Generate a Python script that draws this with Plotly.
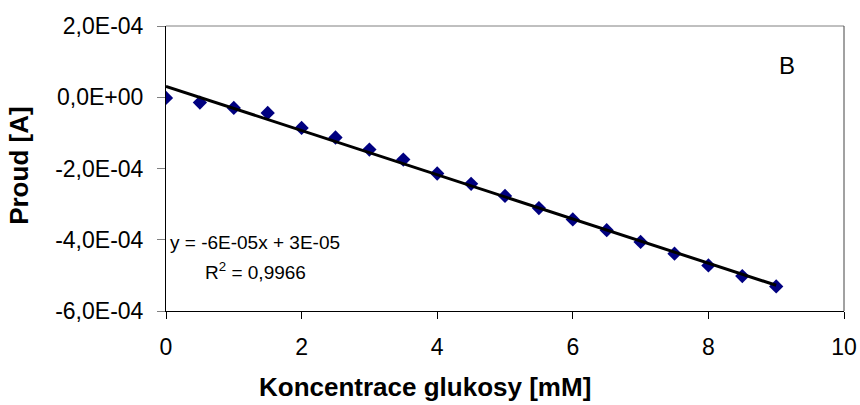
import numpy as np
import plotly.graph_objects as go

konc = [0, 0.5, 1, 1.5, 2, 2.5, 3, 3.5, 4, 4.5, 5, 5.5, 6, 6.5, 7, 7.5, 8, 8.5, 9]
proud = [-2e-6, -1.5e-5, -3.0e-5, -4.4e-5, -8.6e-5, -1.13e-4, -1.47e-4, -1.75e-4,
         -2.14e-4, -2.43e-4, -2.77e-4, -3.11e-4, -3.43e-4, -3.73e-4, -4.06e-4,
         -4.39e-4, -4.72e-4, -5.02e-4, -5.31e-4]

y_tickvals = [2e-4, 0, -2e-4, -4e-4, -6e-4]
y_ticktext = ["2,0E-04", "0,0E+00", "-2,0E-04", "-4,0E-04", "-6,0E-04"]
x_tickvals = [0, 2, 4, 6, 8, 10]

slope, intercept = np.polyfit(konc, proud, 1)
trend_x = [konc[0], konc[-1]]
trend_y = [slope * v + intercept for v in trend_x]

font = "Liberation Sans, Arial, sans-serif"

fig = go.Figure()
fig.add_trace(go.Scatter(x=konc, y=proud, mode="markers",
                         marker=dict(symbol="diamond", size=11, color="#000080",
                                     line=dict(width=0)),
                         showlegend=False))
fig.add_trace(go.Scatter(x=trend_x, y=trend_y, mode="lines",
                         line=dict(color="black", width=3), showlegend=False))

fig.update_layout(
    width=860, height=405,
    margin=dict(l=166, r=16, t=26, b=94),
    paper_bgcolor="white", plot_bgcolor="white",
    font=dict(family=font, size=23, color="black"),
    xaxis=dict(range=[0, 10], tickvals=x_tickvals, showgrid=False, zeroline=False,
               showline=True, linecolor="black", linewidth=1,
               ticks="outside", ticklen=7, tickcolor="black",
               ticklabelstandoff=8, automargin=False),
    yaxis=dict(range=[-6e-4, 2e-4], tickvals=y_tickvals, ticktext=y_ticktext,
               showgrid=False, zeroline=False,
               showline=True, linecolor="black", linewidth=1,
               ticks="outside", ticklen=8, tickcolor="gray",
               ticklabelstandoff=9, automargin=False),
    shapes=[
        dict(type="line", xref="paper", yref="paper", x0=0, x1=1, y0=1, y1=1,
             line=dict(color="gray", width=1)),
        dict(type="line", xref="paper", yref="paper", x0=1, x1=1, y0=0, y1=1,
             line=dict(color="#444", width=1)),
    ],
    annotations=[
        dict(text="<b>Koncentrace glukosy [mM]</b>", xref="paper", yref="paper",
             x=0.382, y=-0.267, xanchor="center", yanchor="middle",
             showarrow=False, font=dict(size=26)),
        dict(text="<b>Proud [A]</b>", xref="paper", yref="paper", textangle=-90,
             x=-0.218, y=0.51, xanchor="center", yanchor="middle",
             showarrow=False, font=dict(size=26)),
        dict(text="B", xref="paper", yref="paper", x=0.916, y=0.86,
             showarrow=False, font=dict(size=24), xanchor="center", yanchor="middle"),
        dict(text="y = -6E-05x + 3E-05", xref="paper", yref="paper", x=0.003,
             y=0.2386, xanchor="left", yanchor="middle", showarrow=False,
             font=dict(size=19)),
        dict(text="R<sup>2</sup> = 0,9966", xref="paper", yref="paper", x=0.055,
             y=0.1404, xanchor="left", yanchor="middle", showarrow=False,
             font=dict(size=19)),
    ],
)

fig.write_html("out.html")
